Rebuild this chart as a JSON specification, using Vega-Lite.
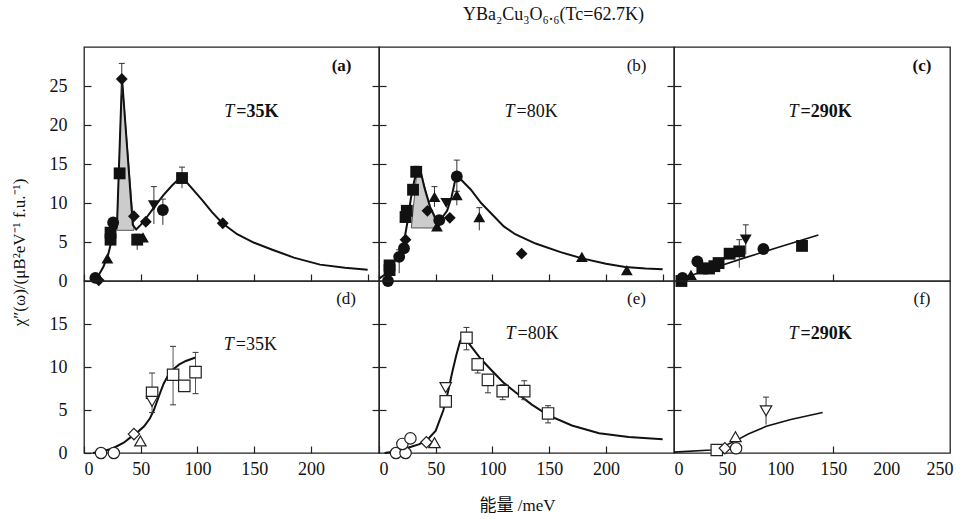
{
  "$schema": "https://vega.github.io/schema/vega-lite/v6.json",
  "padding": {"left": 9, "top": 6, "right": 5, "bottom": 2},
  "title": {"text": "YBa₂Cu₃O₆.₆(Tc=62.7K)", "anchor": "middle", "font": "Liberation Serif", "fontSize": 18, "fontWeight": "normal", "color": "#111", "offset": 22, "dx": 72},
  "datasets": {
    "pts": [
      {"p": "a", "E": 10, "v": 0.4, "s": "circle"},
      {"p": "a", "E": 13, "v": 0.1, "s": "diamond"},
      {"p": "a", "E": 20.6, "v": 2.9, "s": "triangle-up"},
      {"p": "a", "E": 23.4, "v": 5.3, "s": "square"},
      {"p": "a", "E": 23.4, "v": 6.2, "s": "square"},
      {"p": "a", "E": 25.7, "v": 7.5, "s": "circle"},
      {"p": "a", "E": 31.4, "v": 13.8, "s": "square"},
      {"p": "a", "E": 33.3, "v": 25.9, "s": "diamond"},
      {"p": "a", "E": 44, "v": 8.3, "s": "diamond"},
      {"p": "a", "E": 52, "v": 5.6, "s": "triangle-up"},
      {"p": "a", "E": 46.9, "v": 5.3, "s": "square"},
      {"p": "a", "E": 54.5, "v": 7.6, "s": "diamond"},
      {"p": "a", "E": 61.6, "v": 9.7, "s": "triangle-down"},
      {"p": "a", "E": 69.5, "v": 9.1, "s": "circle"},
      {"p": "a", "E": 86.4, "v": 13.2, "s": "square"},
      {"p": "a", "E": 122.3, "v": 7.4, "s": "diamond"},
      {"p": "b", "E": 7.9, "v": 0.0, "s": "circle"},
      {"p": "b", "E": 9.3, "v": 1.4, "s": "square"},
      {"p": "b", "E": 9.3, "v": 2.0, "s": "square"},
      {"p": "b", "E": 17.8, "v": 3.1, "s": "circle"},
      {"p": "b", "E": 22, "v": 4.2, "s": "circle"},
      {"p": "b", "E": 23.4, "v": 5.3, "s": "diamond"},
      {"p": "b", "E": 23.4, "v": 8.2, "s": "square"},
      {"p": "b", "E": 24.5, "v": 9.0, "s": "square"},
      {"p": "b", "E": 30, "v": 11.7, "s": "square"},
      {"p": "b", "E": 32.8, "v": 14.0, "s": "square"},
      {"p": "b", "E": 42.7, "v": 9.0, "s": "diamond"},
      {"p": "b", "E": 48.9, "v": 10.8, "s": "triangle-up"},
      {"p": "b", "E": 51.1, "v": 7.0, "s": "triangle-up"},
      {"p": "b", "E": 53.1, "v": 7.8, "s": "circle"},
      {"p": "b", "E": 59.3, "v": 10.0, "s": "triangle-down"},
      {"p": "b", "E": 62.4, "v": 8.1, "s": "diamond"},
      {"p": "b", "E": 68.6, "v": 11.0, "s": "triangle-up"},
      {"p": "b", "E": 68.6, "v": 13.4, "s": "circle"},
      {"p": "b", "E": 88.4, "v": 8.2, "s": "triangle-up"},
      {"p": "b", "E": 125.7, "v": 3.5, "s": "diamond"},
      {"p": "b", "E": 178.8, "v": 3.1, "s": "triangle-up"},
      {"p": "b", "E": 218.4, "v": 1.4, "s": "triangle-up"},
      {"p": "c", "E": 7, "v": 0.0, "s": "square"},
      {"p": "c", "E": 8, "v": 0.4, "s": "circle"},
      {"p": "c", "E": 16, "v": 0.8, "s": "triangle-up"},
      {"p": "c", "E": 22, "v": 2.5, "s": "circle"},
      {"p": "c", "E": 26.7, "v": 1.6, "s": "square"},
      {"p": "c", "E": 33, "v": 1.6, "s": "square"},
      {"p": "c", "E": 38, "v": 1.9, "s": "square"},
      {"p": "c", "E": 42, "v": 2.3, "s": "square"},
      {"p": "c", "E": 52.4, "v": 3.5, "s": "square"},
      {"p": "c", "E": 61.5, "v": 3.8, "s": "square"},
      {"p": "c", "E": 67.6, "v": 5.3, "s": "triangle-down"},
      {"p": "c", "E": 84.2, "v": 4.1, "s": "circle"},
      {"p": "c", "E": 120.6, "v": 4.5, "s": "square"},
      {"p": "d", "E": 15, "v": 0, "s": "circle"},
      {"p": "d", "E": 26.3, "v": 0, "s": "circle"},
      {"p": "d", "E": 44, "v": 2.2, "s": "diamond"},
      {"p": "d", "E": 49.7, "v": 1.4, "s": "triangle-up"},
      {"p": "d", "E": 60, "v": 7.0, "s": "square"},
      {"p": "d", "E": 60, "v": 6.0, "s": "triangle-down"},
      {"p": "d", "E": 78.5, "v": 9.1, "s": "square"},
      {"p": "d", "E": 88.4, "v": 7.8, "s": "square"},
      {"p": "d", "E": 98.3, "v": 9.4, "s": "square"},
      {"p": "e", "E": 15, "v": 0, "s": "circle"},
      {"p": "e", "E": 23.4, "v": 0, "s": "circle"},
      {"p": "e", "E": 20.6, "v": 1.05, "s": "circle"},
      {"p": "e", "E": 27.7, "v": 1.7, "s": "circle"},
      {"p": "e", "E": 41.8, "v": 1.25, "s": "diamond"},
      {"p": "e", "E": 48.9, "v": 1.2, "s": "triangle-up"},
      {"p": "e", "E": 58.8, "v": 7.6, "s": "triangle-down"},
      {"p": "e", "E": 58.8, "v": 6.0, "s": "square"},
      {"p": "e", "E": 77.1, "v": 13.4, "s": "square"},
      {"p": "e", "E": 87, "v": 10.3, "s": "square"},
      {"p": "e", "E": 96, "v": 8.5, "s": "square"},
      {"p": "e", "E": 109, "v": 7.2, "s": "square"},
      {"p": "e", "E": 128, "v": 7.2, "s": "square"},
      {"p": "e", "E": 149, "v": 4.6, "s": "square"},
      {"p": "f", "E": 40.3, "v": 0.35, "s": "square"},
      {"p": "f", "E": 47.9, "v": 0.55, "s": "diamond"},
      {"p": "f", "E": 58.5, "v": 0.55, "s": "circle"},
      {"p": "f", "E": 57.9, "v": 1.9, "s": "triangle-up"},
      {"p": "f", "E": 86.7, "v": 4.9, "s": "triangle-down"}
    ],
    "err": [
      {"p": "a", "E": 33.3, "lo": 23.8, "hi": 27.9},
      {"p": "a", "E": 86.4, "lo": 11.9, "hi": 14.6},
      {"p": "a", "E": 61.6, "lo": 7.3, "hi": 12.1},
      {"p": "a", "E": 69.5, "lo": 7.2, "hi": 10.5},
      {"p": "a", "E": 46.9, "lo": 4.0, "hi": 6.0},
      {"p": "b", "E": 68.6, "lo": 11.3, "hi": 15.5},
      {"p": "b", "E": 48.9, "lo": 9.5, "hi": 12.1},
      {"p": "b", "E": 32.8, "lo": 13.5, "hi": 14.7},
      {"p": "b", "E": 17.8, "lo": 1.0, "hi": 4.0},
      {"p": "b", "E": 68.6, "lo": 9.7, "hi": 11.5},
      {"p": "b", "E": 88.4, "lo": 6.5, "hi": 9.4},
      {"p": "c", "E": 61.5, "lo": 1.7, "hi": 5.3},
      {"p": "c", "E": 67.6, "lo": 3.4, "hi": 7.2},
      {"p": "d", "E": 60, "lo": 4.7, "hi": 9.3},
      {"p": "d", "E": 78.5, "lo": 5.6, "hi": 12.4},
      {"p": "d", "E": 98.3, "lo": 6.9, "hi": 11.7},
      {"p": "e", "E": 77.1, "lo": 12.0, "hi": 14.6},
      {"p": "e", "E": 87, "lo": 9.3, "hi": 11.0},
      {"p": "e", "E": 96, "lo": 7.0, "hi": 9.0},
      {"p": "e", "E": 109, "lo": 6.2, "hi": 7.95},
      {"p": "e", "E": 128, "lo": 6.2, "hi": 8.4},
      {"p": "e", "E": 149, "lo": 3.5, "hi": 5.5},
      {"p": "f", "E": 86.7, "lo": 3.3, "hi": 6.5}
    ],
    "shade": [
      {"p": "a", "E": 29, "top": 6.5, "base": 6.5},
      {"p": "a", "E": 33.5, "top": 26, "base": 6.5},
      {"p": "a", "E": 44, "top": 6.5, "base": 6.5},
      {"p": "b", "E": 28.5, "top": 6.8, "base": 6.8},
      {"p": "b", "E": 33.5, "top": 14.2, "base": 6.8},
      {"p": "b", "E": 36.5, "top": 14.2, "base": 6.8},
      {"p": "b", "E": 45, "top": 9.5, "base": 6.8},
      {"p": "b", "E": 52, "top": 6.8, "base": 6.8}
    ],
    "fit": [
      {"p": "a", "E": 7, "v": 0}, {"p": "a", "E": 12, "v": 0.5}, {"p": "a", "E": 17, "v": 1.8}, {"p": "a", "E": 21, "v": 3.2},
      {"p": "a", "E": 24, "v": 5}, {"p": "a", "E": 27, "v": 6.5}, {"p": "a", "E": 29, "v": 6.9}, {"p": "a", "E": 33.5, "v": 26},
      {"p": "a", "E": 43, "v": 7.2}, {"p": "a", "E": 46, "v": 6.6}, {"p": "a", "E": 50, "v": 7.2}, {"p": "a", "E": 56, "v": 8.3},
      {"p": "a", "E": 62, "v": 9.5}, {"p": "a", "E": 70, "v": 11.0}, {"p": "a", "E": 78, "v": 12.3}, {"p": "a", "E": 86, "v": 13.4},
      {"p": "a", "E": 95, "v": 11.9}, {"p": "a", "E": 104, "v": 10.4}, {"p": "a", "E": 113, "v": 8.8}, {"p": "a", "E": 122, "v": 7.4},
      {"p": "a", "E": 135, "v": 6.0}, {"p": "a", "E": 150, "v": 4.9}, {"p": "a", "E": 166, "v": 4.0}, {"p": "a", "E": 185, "v": 3.0},
      {"p": "a", "E": 208, "v": 2.1}, {"p": "a", "E": 230, "v": 1.7}, {"p": "a", "E": 250, "v": 1.45},
      {"p": "b", "E": 0, "v": 0.3}, {"p": "b", "E": 5, "v": 0.8}, {"p": "b", "E": 9, "v": 1.5}, {"p": "b", "E": 14, "v": 2.6},
      {"p": "b", "E": 18, "v": 3.6}, {"p": "b", "E": 22, "v": 5.0}, {"p": "b", "E": 25, "v": 7.5}, {"p": "b", "E": 28, "v": 10.5},
      {"p": "b", "E": 31, "v": 12.8}, {"p": "b", "E": 33.5, "v": 14.2}, {"p": "b", "E": 36.5, "v": 14.2}, {"p": "b", "E": 40, "v": 12},
      {"p": "b", "E": 45, "v": 9.5}, {"p": "b", "E": 50, "v": 8.0}, {"p": "b", "E": 55, "v": 8.0}, {"p": "b", "E": 60, "v": 9.0},
      {"p": "b", "E": 64, "v": 10.8}, {"p": "b", "E": 67, "v": 12.8}, {"p": "b", "E": 69.5, "v": 13.4}, {"p": "b", "E": 75, "v": 12.6},
      {"p": "b", "E": 81, "v": 11.7}, {"p": "b", "E": 90, "v": 10.0}, {"p": "b", "E": 100, "v": 8.5}, {"p": "b", "E": 110, "v": 7.0},
      {"p": "b", "E": 120, "v": 6.0}, {"p": "b", "E": 138, "v": 4.8}, {"p": "b", "E": 160, "v": 3.7}, {"p": "b", "E": 179, "v": 2.9},
      {"p": "b", "E": 200, "v": 2.2}, {"p": "b", "E": 217, "v": 1.8}, {"p": "b", "E": 235, "v": 1.6}, {"p": "b", "E": 250, "v": 1.5},
      {"p": "c", "E": 3, "v": 0}, {"p": "c", "E": 20, "v": 0.9}, {"p": "c", "E": 40, "v": 1.8}, {"p": "c", "E": 65, "v": 2.9},
      {"p": "c", "E": 100, "v": 4.4}, {"p": "c", "E": 136, "v": 5.9},
      {"p": "d", "E": 8, "v": 0}, {"p": "d", "E": 15, "v": 0.15}, {"p": "d", "E": 22, "v": 0.4}, {"p": "d", "E": 27.7, "v": 0.7},
      {"p": "d", "E": 35, "v": 1.2}, {"p": "d", "E": 41.8, "v": 1.9}, {"p": "d", "E": 47, "v": 2.4}, {"p": "d", "E": 53, "v": 3.1},
      {"p": "d", "E": 58, "v": 4.0}, {"p": "d", "E": 61.6, "v": 5.0}, {"p": "d", "E": 66, "v": 6.6}, {"p": "d", "E": 70, "v": 8.0},
      {"p": "d", "E": 74, "v": 9.0}, {"p": "d", "E": 78.5, "v": 9.7}, {"p": "d", "E": 84, "v": 10.3}, {"p": "d", "E": 89.8, "v": 10.7},
      {"p": "d", "E": 98.3, "v": 11.1},
      {"p": "e", "E": 5, "v": 0}, {"p": "e", "E": 15, "v": 0.2}, {"p": "e", "E": 27.7, "v": 0.7}, {"p": "e", "E": 35, "v": 1.0},
      {"p": "e", "E": 41.8, "v": 1.4}, {"p": "e", "E": 50, "v": 2.6}, {"p": "e", "E": 56.8, "v": 5.0}, {"p": "e", "E": 61, "v": 7.2},
      {"p": "e", "E": 64.4, "v": 9.3}, {"p": "e", "E": 68, "v": 11.3}, {"p": "e", "E": 71.5, "v": 13.0}, {"p": "e", "E": 74.3, "v": 13.6},
      {"p": "e", "E": 80, "v": 12.6}, {"p": "e", "E": 90, "v": 10.9}, {"p": "e", "E": 100, "v": 9.5}, {"p": "e", "E": 109.6, "v": 8.2},
      {"p": "e", "E": 120, "v": 7.1}, {"p": "e", "E": 135, "v": 5.6}, {"p": "e", "E": 149, "v": 4.4}, {"p": "e", "E": 170, "v": 3.2},
      {"p": "e", "E": 194, "v": 2.3}, {"p": "e", "E": 220, "v": 1.85}, {"p": "e", "E": 250, "v": 1.6},
      {"p": "f", "E": 0, "v": 0.1}, {"p": "f", "E": 35, "v": 0.35}, {"p": "f", "E": 45, "v": 0.7}, {"p": "f", "E": 57, "v": 1.35},
      {"p": "f", "E": 70, "v": 2.2}, {"p": "f", "E": 87, "v": 3.1}, {"p": "f", "E": 110, "v": 3.9}, {"p": "f", "E": 140, "v": 4.7}
    ],
    "notes": [
      {"p": "a", "k": "lab", "E": 227, "v": 27.6, "t": "(a)"},
      {"p": "a", "k": "T", "E": 132.5, "v": 21.7, "t": "T"},
      {"p": "a", "k": "val", "E": 132.5, "v": 21.7, "t": "=35K"},
      {"p": "b", "k": "lab", "E": 227, "v": 27.6, "t": "(b)"},
      {"p": "b", "k": "T", "E": 119.5, "v": 21.7, "t": "T"},
      {"p": "b", "k": "val", "E": 119.5, "v": 21.7, "t": "=80K"},
      {"p": "c", "k": "lab", "E": 233.6, "v": 27.6, "t": "(c)"},
      {"p": "c", "k": "T", "E": 117.3, "v": 21.7, "t": "T"},
      {"p": "c", "k": "val", "E": 117.3, "v": 21.7, "t": "=290K"},
      {"p": "d", "k": "lab", "E": 231, "v": 17.9, "t": "(d)"},
      {"p": "d", "k": "T", "E": 132, "v": 12.6, "t": "T"},
      {"p": "d", "k": "val", "E": 132, "v": 12.6, "t": "=35K"},
      {"p": "e", "k": "lab", "E": 227, "v": 17.9, "t": "(e)"},
      {"p": "e", "k": "T", "E": 120.3, "v": 13.8, "t": "T"},
      {"p": "e", "k": "val", "E": 120.3, "v": 13.8, "t": "=80K"},
      {"p": "f", "k": "lab", "E": 233.6, "v": 17.9, "t": "(f)"},
      {"p": "f", "k": "T", "E": 117.3, "v": 13.8, "t": "T"},
      {"p": "f", "k": "val", "E": 117.3, "v": 13.8, "t": "=290K"}
    ]
  },
  "columns": 3,
  "spacing": 0,
  "bounds": "flush",
  "concat": [
    {
      "width": 295, "height": 234,
      "resolve": {"axis": {"y": "independent"}},
      "layer": [
        {"data": {"name": "shade"}, "transform": [{"filter": "datum.p==='a'"}],
         "mark": {"type": "area", "fill": "#cccccc", "stroke": "#555", "strokeWidth": 1, "opacity": 1},
         "encoding": {
           "x": {"field": "E", "type": "quantitative", "scale": {"domain": [0, 250]}, "axis": {"values": [0, 50, 100, 150, 200, 250], "labels": false, "title": null}},
           "y": {"field": "top", "type": "quantitative", "scale": {"domain": [0, 30]}, "axis": {"orient": "left", "values": [0, 5, 10, 15, 20, 25], "title": "χ″(ω)/(μB²eV⁻¹ f.u.⁻¹)", "titleX": -56, "titleY": 205, "titleAngle": 270, "titleBaseline": "bottom", "titleAlign": "center", "titleFont": "Liberation Serif", "titleFontSize": 17, "titleFontWeight": "normal", "titleColor": "#111"}},
           "y2": {"field": "base"}}},
        {"data": {"name": "fit"}, "transform": [{"filter": "datum.p==='a'"}],
         "mark": {"type": "line", "color": "#111", "strokeWidth": 2},
         "encoding": {"x": {"field": "E", "type": "quantitative"}, "y": {"field": "v", "type": "quantitative", "axis": {"orient": "right", "values": [5, 10, 15, 20, 25], "labels": false, "title": null}}}},
        {"data": {"name": "err"}, "transform": [{"filter": "datum.p==='a'"}],
         "mark": {"type": "rule", "color": "#333", "strokeWidth": 1},
         "encoding": {"x": {"field": "E", "type": "quantitative"}, "y": {"field": "lo", "type": "quantitative", "axis": null}, "y2": {"field": "hi"}}},
        {"data": {"name": "err"}, "transform": [{"filter": "datum.p==='a'"}],
         "mark": {"type": "tick", "orient": "horizontal", "size": 6, "thickness": 1, "color": "#333", "opacity": 1},
         "encoding": {"x": {"field": "E", "type": "quantitative"}, "y": {"field": "hi", "type": "quantitative", "axis": null}}},
        {"data": {"name": "pts"}, "transform": [{"filter": "datum.p==='a'"}],
         "mark": {"type": "point", "filled": true, "color": "#111", "size": 140, "opacity": 1},
         "encoding": {"x": {"field": "E", "type": "quantitative"}, "y": {"field": "v", "type": "quantitative", "axis": null}, "shape": {"field": "s", "type": "nominal", "scale": null}}},
        {"data": {"name": "notes"}, "transform": [{"filter": "datum.p==='a' && datum.k==='lab'"}],
         "mark": {"type": "text", "font": "Liberation Serif", "fontSize": 17, "fontWeight": "bold", "color": "#111", "align": "center", "baseline": "middle"},
         "encoding": {"x": {"field": "E", "type": "quantitative"}, "y": {"field": "v", "type": "quantitative", "axis": null}, "text": {"field": "t"}}},
        {"data": {"name": "notes"}, "transform": [{"filter": "datum.p==='a' && datum.k==='T'"}],
         "mark": {"type": "text", "font": "Liberation Serif", "fontSize": 18, "fontStyle": "italic", "color": "#111", "align": "right", "baseline": "middle"},
         "encoding": {"x": {"field": "E", "type": "quantitative"}, "y": {"field": "v", "type": "quantitative", "axis": null}, "text": {"field": "t"}}},
        {"data": {"name": "notes"}, "transform": [{"filter": "datum.p==='a' && datum.k==='val'"}],
         "mark": {"type": "text", "font": "Liberation Serif", "fontSize": 18, "fontWeight": "bold", "color": "#111", "align": "left", "baseline": "middle", "dx": 2},
         "encoding": {"x": {"field": "E", "type": "quantitative"}, "y": {"field": "v", "type": "quantitative", "axis": null}, "text": {"field": "t"}}}
      ]
    },
    {
      "width": 295, "height": 234,
      "resolve": {"axis": {"y": "independent"}},
      "layer": [
        {"data": {"name": "shade"}, "transform": [{"filter": "datum.p==='b'"}],
         "mark": {"type": "area", "fill": "#cccccc", "stroke": "#555", "strokeWidth": 1, "opacity": 1},
         "encoding": {
           "x": {"field": "E", "type": "quantitative", "scale": {"domain": [0, 250]}, "axis": {"values": [0, 50, 100, 150, 200, 250], "labels": false, "title": null}},
           "y": {"field": "top", "type": "quantitative", "scale": {"domain": [0, 30]}, "axis": {"orient": "left", "values": [5, 10, 15, 20, 25], "labels": false, "title": null}},
           "y2": {"field": "base"}}},
        {"data": {"name": "fit"}, "transform": [{"filter": "datum.p==='b'"}],
         "mark": {"type": "line", "color": "#111", "strokeWidth": 2},
         "encoding": {"x": {"field": "E", "type": "quantitative"}, "y": {"field": "v", "type": "quantitative", "axis": {"orient": "right", "values": [5, 10, 15, 20, 25], "labels": false, "title": null}}}},
        {"data": {"name": "err"}, "transform": [{"filter": "datum.p==='b'"}],
         "mark": {"type": "rule", "color": "#333", "strokeWidth": 1},
         "encoding": {"x": {"field": "E", "type": "quantitative"}, "y": {"field": "lo", "type": "quantitative", "axis": null}, "y2": {"field": "hi"}}},
        {"data": {"name": "err"}, "transform": [{"filter": "datum.p==='b'"}],
         "mark": {"type": "tick", "orient": "horizontal", "size": 6, "thickness": 1, "color": "#333", "opacity": 1},
         "encoding": {"x": {"field": "E", "type": "quantitative"}, "y": {"field": "hi", "type": "quantitative", "axis": null}}},
        {"data": {"name": "pts"}, "transform": [{"filter": "datum.p==='b'"}],
         "mark": {"type": "point", "filled": true, "color": "#111", "size": 140, "opacity": 1},
         "encoding": {"x": {"field": "E", "type": "quantitative"}, "y": {"field": "v", "type": "quantitative", "axis": null}, "shape": {"field": "s", "type": "nominal", "scale": null}}},
        {"data": {"name": "notes"}, "transform": [{"filter": "datum.p==='b' && datum.k==='lab'"}],
         "mark": {"type": "text", "font": "Liberation Serif", "fontSize": 17, "fontWeight": "normal", "color": "#111", "align": "center", "baseline": "middle"},
         "encoding": {"x": {"field": "E", "type": "quantitative"}, "y": {"field": "v", "type": "quantitative", "axis": null}, "text": {"field": "t"}}},
        {"data": {"name": "notes"}, "transform": [{"filter": "datum.p==='b' && datum.k==='T'"}],
         "mark": {"type": "text", "font": "Liberation Serif", "fontSize": 18, "fontStyle": "italic", "color": "#111", "align": "right", "baseline": "middle"},
         "encoding": {"x": {"field": "E", "type": "quantitative"}, "y": {"field": "v", "type": "quantitative", "axis": null}, "text": {"field": "t"}}},
        {"data": {"name": "notes"}, "transform": [{"filter": "datum.p==='b' && datum.k==='val'"}],
         "mark": {"type": "text", "font": "Liberation Serif", "fontSize": 18, "fontWeight": "normal", "color": "#111", "align": "left", "baseline": "middle", "dx": 2},
         "encoding": {"x": {"field": "E", "type": "quantitative"}, "y": {"field": "v", "type": "quantitative", "axis": null}, "text": {"field": "t"}}}
      ]
    },
    {
      "width": 276, "height": 234,
      "layer": [
        {"data": {"name": "fit"}, "transform": [{"filter": "datum.p==='c'"}],
         "mark": {"type": "line", "color": "#111", "strokeWidth": 1.6},
         "encoding": {
           "x": {"field": "E", "type": "quantitative", "scale": {"domain": [0, 250]}, "axis": {"values": [0, 50, 100, 150, 200, 250], "labels": false, "title": null, "tickOpacity": {"condition": {"test": "datum.value === 150", "value": 1}, "value": 0}}},
           "y": {"field": "v", "type": "quantitative", "scale": {"domain": [0, 30]}, "axis": {"orient": "left", "values": [5, 10, 15, 20, 25], "labels": false, "title": null}}}},
        {"data": {"name": "err"}, "transform": [{"filter": "datum.p==='c'"}],
         "mark": {"type": "rule", "color": "#333", "strokeWidth": 1},
         "encoding": {"x": {"field": "E", "type": "quantitative"}, "y": {"field": "lo", "type": "quantitative"}, "y2": {"field": "hi"}}},
        {"data": {"name": "err"}, "transform": [{"filter": "datum.p==='c'"}],
         "mark": {"type": "tick", "orient": "horizontal", "size": 6, "thickness": 1, "color": "#333", "opacity": 1},
         "encoding": {"x": {"field": "E", "type": "quantitative"}, "y": {"field": "hi", "type": "quantitative"}}},
        {"data": {"name": "pts"}, "transform": [{"filter": "datum.p==='c'"}],
         "mark": {"type": "point", "filled": true, "color": "#111", "size": 140, "opacity": 1},
         "encoding": {"x": {"field": "E", "type": "quantitative"}, "y": {"field": "v", "type": "quantitative"}, "shape": {"field": "s", "type": "nominal", "scale": null}}},
        {"data": {"name": "notes"}, "transform": [{"filter": "datum.p==='c' && datum.k==='lab'"}],
         "mark": {"type": "text", "font": "Liberation Serif", "fontSize": 17, "fontWeight": "bold", "color": "#111", "align": "center", "baseline": "middle"},
         "encoding": {"x": {"field": "E", "type": "quantitative"}, "y": {"field": "v", "type": "quantitative"}, "text": {"field": "t"}}},
        {"data": {"name": "notes"}, "transform": [{"filter": "datum.p==='c' && datum.k==='T'"}],
         "mark": {"type": "text", "font": "Liberation Serif", "fontSize": 18, "fontStyle": "italic", "color": "#111", "align": "right", "baseline": "middle"},
         "encoding": {"x": {"field": "E", "type": "quantitative"}, "y": {"field": "v", "type": "quantitative"}, "text": {"field": "t"}}},
        {"data": {"name": "notes"}, "transform": [{"filter": "datum.p==='c' && datum.k==='val'"}],
         "mark": {"type": "text", "font": "Liberation Serif", "fontSize": 18, "fontWeight": "bold", "color": "#111", "align": "left", "baseline": "middle", "dx": 2},
         "encoding": {"x": {"field": "E", "type": "quantitative"}, "y": {"field": "v", "type": "quantitative"}, "text": {"field": "t"}}}
      ]
    },
    {
      "width": 295, "height": 172,
      "resolve": {"axis": {"y": "independent"}},
      "layer": [
        {"data": {"name": "fit"}, "transform": [{"filter": "datum.p==='d'"}],
         "mark": {"type": "line", "color": "#111", "strokeWidth": 2},
         "encoding": {
           "x": {"field": "E", "type": "quantitative", "scale": {"domain": [0, 250]}, "axis": {"values": [0, 50, 100, 150, 200], "title": null}},
           "y": {"field": "v", "type": "quantitative", "scale": {"domain": [0, 20]}, "axis": {"orient": "left", "values": [0, 5, 10, 15], "title": null}}}},
        {"data": {"name": "err"}, "transform": [{"filter": "datum.p==='d'"}],
         "mark": {"type": "rule", "color": "#555", "strokeWidth": 1},
         "encoding": {"x": {"field": "E", "type": "quantitative"}, "y": {"field": "lo", "type": "quantitative", "axis": {"orient": "right", "values": [5, 10, 15], "labels": false, "title": null}}, "y2": {"field": "hi"}}},
        {"data": {"name": "err"}, "transform": [{"filter": "datum.p==='d'"}],
         "mark": {"type": "tick", "orient": "horizontal", "size": 6, "thickness": 1, "color": "#333", "opacity": 1},
         "encoding": {"x": {"field": "E", "type": "quantitative"}, "y": {"field": "hi", "type": "quantitative", "axis": null}}},
        {"data": {"name": "err"}, "transform": [{"filter": "datum.p==='d'"}],
         "mark": {"type": "tick", "orient": "horizontal", "size": 6, "thickness": 1, "color": "#333", "opacity": 1},
         "encoding": {"x": {"field": "E", "type": "quantitative"}, "y": {"field": "lo", "type": "quantitative", "axis": null}}},
        {"data": {"name": "pts"}, "transform": [{"filter": "datum.p==='d'"}],
         "mark": {"type": "point", "filled": true, "fill": "white", "stroke": "#222", "strokeWidth": 1.2, "size": 130, "opacity": 1},
         "encoding": {"x": {"field": "E", "type": "quantitative"}, "y": {"field": "v", "type": "quantitative", "axis": null}, "shape": {"field": "s", "type": "nominal", "scale": null}}},
        {"data": {"name": "notes"}, "transform": [{"filter": "datum.p==='d' && datum.k==='lab'"}],
         "mark": {"type": "text", "font": "Liberation Serif", "fontSize": 17, "fontWeight": "normal", "color": "#111", "align": "center", "baseline": "middle"},
         "encoding": {"x": {"field": "E", "type": "quantitative"}, "y": {"field": "v", "type": "quantitative", "axis": null}, "text": {"field": "t"}}},
        {"data": {"name": "notes"}, "transform": [{"filter": "datum.p==='d' && datum.k==='T'"}],
         "mark": {"type": "text", "font": "Liberation Serif", "fontSize": 18, "fontStyle": "italic", "color": "#111", "align": "right", "baseline": "middle"},
         "encoding": {"x": {"field": "E", "type": "quantitative"}, "y": {"field": "v", "type": "quantitative", "axis": null}, "text": {"field": "t"}}},
        {"data": {"name": "notes"}, "transform": [{"filter": "datum.p==='d' && datum.k==='val'"}],
         "mark": {"type": "text", "font": "Liberation Serif", "fontSize": 18, "fontWeight": "normal", "color": "#111", "align": "left", "baseline": "middle", "dx": 2},
         "encoding": {"x": {"field": "E", "type": "quantitative"}, "y": {"field": "v", "type": "quantitative", "axis": null}, "text": {"field": "t"}}}
      ]
    },
    {
      "width": 295, "height": 172,
      "resolve": {"axis": {"y": "independent"}},
      "layer": [
        {"data": {"name": "fit"}, "transform": [{"filter": "datum.p==='e'"}],
         "mark": {"type": "line", "color": "#111", "strokeWidth": 2},
         "encoding": {
           "x": {"field": "E", "type": "quantitative", "scale": {"domain": [0, 250]}, "axis": {"values": [0, 50, 100, 150, 200], "title": "能量 /meV", "titleX": 138, "titleY": 44, "titleFont": "Liberation Serif, Noto Sans CJK SC", "titleFontSize": 17, "titleFontWeight": "normal", "titleColor": "#111", "titleBaseline": "top"}},
           "y": {"field": "v", "type": "quantitative", "scale": {"domain": [0, 20]}, "axis": {"orient": "left", "values": [5, 10, 15], "labels": false, "title": null}}}},
        {"data": {"name": "err"}, "transform": [{"filter": "datum.p==='e'"}],
         "mark": {"type": "rule", "color": "#444", "strokeWidth": 1},
         "encoding": {"x": {"field": "E", "type": "quantitative"}, "y": {"field": "lo", "type": "quantitative", "axis": {"orient": "right", "values": [5, 10, 15], "labels": false, "title": null}}, "y2": {"field": "hi"}}},
        {"data": {"name": "err"}, "transform": [{"filter": "datum.p==='e'"}],
         "mark": {"type": "tick", "orient": "horizontal", "size": 6, "thickness": 1, "color": "#333", "opacity": 1},
         "encoding": {"x": {"field": "E", "type": "quantitative"}, "y": {"field": "hi", "type": "quantitative", "axis": null}}},
        {"data": {"name": "err"}, "transform": [{"filter": "datum.p==='e'"}],
         "mark": {"type": "tick", "orient": "horizontal", "size": 6, "thickness": 1, "color": "#333", "opacity": 1},
         "encoding": {"x": {"field": "E", "type": "quantitative"}, "y": {"field": "lo", "type": "quantitative", "axis": null}}},
        {"data": {"name": "pts"}, "transform": [{"filter": "datum.p==='e'"}],
         "mark": {"type": "point", "filled": true, "fill": "white", "stroke": "#222", "strokeWidth": 1.2, "size": 130, "opacity": 1},
         "encoding": {"x": {"field": "E", "type": "quantitative"}, "y": {"field": "v", "type": "quantitative", "axis": null}, "shape": {"field": "s", "type": "nominal", "scale": null}}},
        {"data": {"name": "notes"}, "transform": [{"filter": "datum.p==='e' && datum.k==='lab'"}],
         "mark": {"type": "text", "font": "Liberation Serif", "fontSize": 17, "fontWeight": "normal", "color": "#111", "align": "center", "baseline": "middle"},
         "encoding": {"x": {"field": "E", "type": "quantitative"}, "y": {"field": "v", "type": "quantitative", "axis": null}, "text": {"field": "t"}}},
        {"data": {"name": "notes"}, "transform": [{"filter": "datum.p==='e' && datum.k==='T'"}],
         "mark": {"type": "text", "font": "Liberation Serif", "fontSize": 18, "fontStyle": "italic", "color": "#111", "align": "right", "baseline": "middle"},
         "encoding": {"x": {"field": "E", "type": "quantitative"}, "y": {"field": "v", "type": "quantitative", "axis": null}, "text": {"field": "t"}}},
        {"data": {"name": "notes"}, "transform": [{"filter": "datum.p==='e' && datum.k==='val'"}],
         "mark": {"type": "text", "font": "Liberation Serif", "fontSize": 18, "fontWeight": "normal", "color": "#111", "align": "left", "baseline": "middle", "dx": 2},
         "encoding": {"x": {"field": "E", "type": "quantitative"}, "y": {"field": "v", "type": "quantitative", "axis": null}, "text": {"field": "t"}}}
      ]
    },
    {
      "width": 276, "height": 172,
      "layer": [
        {"data": {"name": "fit"}, "transform": [{"filter": "datum.p==='f'"}],
         "mark": {"type": "line", "color": "#111", "strokeWidth": 1.6},
         "encoding": {
           "x": {"field": "E", "type": "quantitative", "scale": {"domain": [0, 250]}, "axis": {"values": [0, 50, 100, 150, 200, 250], "title": null, "tickOpacity": {"condition": {"test": "datum.value === 150", "value": 1}, "value": 0}}},
           "y": {"field": "v", "type": "quantitative", "scale": {"domain": [0, 20]}, "axis": {"orient": "left", "values": [5, 10, 15], "labels": false, "title": null}}}},
        {"data": {"name": "err"}, "transform": [{"filter": "datum.p==='f'"}],
         "mark": {"type": "rule", "color": "#333", "strokeWidth": 1},
         "encoding": {"x": {"field": "E", "type": "quantitative"}, "y": {"field": "lo", "type": "quantitative"}, "y2": {"field": "hi"}}},
        {"data": {"name": "err"}, "transform": [{"filter": "datum.p==='f'"}],
         "mark": {"type": "tick", "orient": "horizontal", "size": 6, "thickness": 1, "color": "#333", "opacity": 1},
         "encoding": {"x": {"field": "E", "type": "quantitative"}, "y": {"field": "hi", "type": "quantitative"}}},
        {"data": {"name": "pts"}, "transform": [{"filter": "datum.p==='f'"}],
         "mark": {"type": "point", "filled": true, "fill": "white", "stroke": "#222", "strokeWidth": 1.2, "size": 130, "opacity": 1},
         "encoding": {"x": {"field": "E", "type": "quantitative"}, "y": {"field": "v", "type": "quantitative"}, "shape": {"field": "s", "type": "nominal", "scale": null}}},
        {"data": {"name": "notes"}, "transform": [{"filter": "datum.p==='f' && datum.k==='lab'"}],
         "mark": {"type": "text", "font": "Liberation Serif", "fontSize": 17, "fontWeight": "normal", "color": "#111", "align": "center", "baseline": "middle"},
         "encoding": {"x": {"field": "E", "type": "quantitative"}, "y": {"field": "v", "type": "quantitative"}, "text": {"field": "t"}}},
        {"data": {"name": "notes"}, "transform": [{"filter": "datum.p==='f' && datum.k==='T'"}],
         "mark": {"type": "text", "font": "Liberation Serif", "fontSize": 18, "fontStyle": "italic", "color": "#111", "align": "right", "baseline": "middle"},
         "encoding": {"x": {"field": "E", "type": "quantitative"}, "y": {"field": "v", "type": "quantitative"}, "text": {"field": "t"}}},
        {"data": {"name": "notes"}, "transform": [{"filter": "datum.p==='f' && datum.k==='val'"}],
         "mark": {"type": "text", "font": "Liberation Serif", "fontSize": 18, "fontWeight": "bold", "color": "#111", "align": "left", "baseline": "middle", "dx": 2},
         "encoding": {"x": {"field": "E", "type": "quantitative"}, "y": {"field": "v", "type": "quantitative"}, "text": {"field": "t"}}}
      ]
    }
  ],
  "config": {
    "background": "white",
    "view": {"stroke": "#222", "strokeWidth": 1.3},
    "axis": {"domain": false, "grid": false, "tickColor": "#222", "tickWidth": 1.2, "tickSize": -7, "labelFont": "Liberation Serif", "labelFontSize": 18, "labelColor": "#111"},
    "axisX": {"labelPadding": 14},
    "axisY": {"labelPadding": 24}
  }
}
